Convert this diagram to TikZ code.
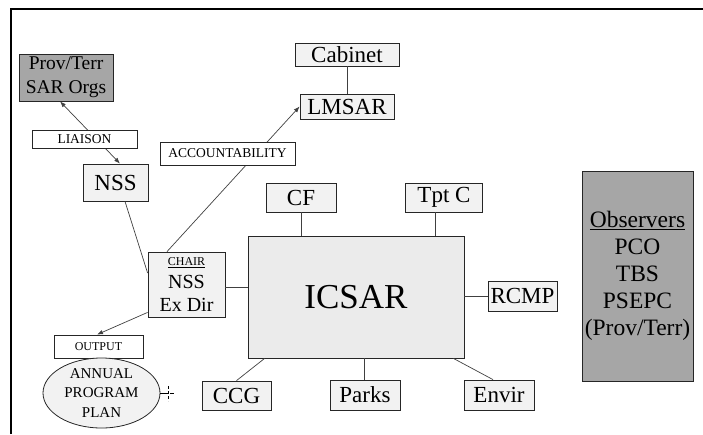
\documentclass[tikz,border=0pt]{standalone}
\usepackage{fontspec}
\setmainfont{Liberation Serif}
\usetikzlibrary{shapes.geometric,arrows.meta}
\definecolor{boxgray}{HTML}{F2F2F2}
\definecolor{bigboxgray}{HTML}{EBEBEB}
\definecolor{darkgray}{HTML}{A6A6A6}
\begin{document}
\begin{tikzpicture}[x=1pt,y=-1pt,
  box/.style={draw=black!85,fill=boxgray,line width=0.8pt,inner sep=0pt,align=center,font=\fontsize{23}{26}\selectfont},
  tag/.style={draw=black!85,fill=white,line width=0.8pt,inner sep=0pt,font=\fontsize{12}{14}\selectfont},
  link/.style={draw=black!75,line width=0.7pt},
  >={Latex[length=6pt,width=4.5pt]}]
\useasboundingbox (0,0) rectangle (703,434);
\draw[line width=2pt] (11,434) -- (11,9) -- (703,9);
\node[box,fill=darkgray,minimum width=94pt,minimum height=47pt,font=\fontsize{19.5}{24}\selectfont] (prov) at (66,77.5) {Prov/Terr\\SAR Orgs};
\node[box,minimum width=65pt,minimum height=37pt] (nss) at (115.5,182.5) {NSS};
\node[box,minimum width=104pt,minimum height=23pt] (cabinet) at (347,54.5) {Cabinet};
\node[box,minimum width=94pt,minimum height=25pt] (lmsar) at (347,106.5) {LMSAR};
\node[box,minimum width=70pt,minimum height=29pt] (cf) at (301,197.5) {CF};
\node[box,minimum width=77pt,minimum height=29pt] (tptc) at (444,197.5) {Tpt C};
\node[box,minimum width=77pt,minimum height=65pt,font=\fontsize{20}{23}\selectfont] (chair) at (186.5,284.5) {{\fontsize{12}{14}\selectfont\underline{CHAIR}}\\NSS\\Ex Dir};
\node[box,fill=bigboxgray,minimum width=216pt,minimum height=122pt,font=\fontsize{35}{40}\selectfont] (icsar) at (356,297) {ICSAR};
\node[box,minimum width=69pt,minimum height=30pt] (rcmp) at (522.5,296) {RCMP};
\node[box,minimum width=69pt,minimum height=29pt] (ccg) at (236.5,395.5) {CCG};
\node[box,minimum width=70pt,minimum height=30pt] (parks) at (365,395) {Parks};
\node[box,minimum width=70pt,minimum height=30pt] (envir) at (499,395) {Envir};
\node[box,fill=darkgray,minimum width=111pt,minimum height=210pt,font=\fontsize{23.5}{27}\selectfont] (observers) at (637.5,276) {\underline{Observers}\\PCO\\TBS\\PSEPC\\(Prov/Terr)};
\node[tag,minimum width=89pt,minimum height=23pt] (output) at (98.5,346.5) {OUTPUT};
\node[box,ellipse,minimum width=117pt,minimum height=70pt,font=\fontsize{15}{19.5}\selectfont] (plan) at (101.5,393) {ANNUAL\\PROGRAM\\PLAN};
\draw[link,<->] ([xshift=-6pt]prov.south) -- ([xshift=4.5pt]nss.north);
\draw[link] ([xshift=9.5pt]nss.south) -- ([yshift=11.5pt]chair.west);
\draw[link,->] ([xshift=-19.5pt]chair.north) -- (lmsar.west);
\draw[link] (cabinet) -- (lmsar);
\draw[link,->] ([yshift=5pt]chair.south west) -- ([xshift=-1.5pt]output.north);
\draw[link] ([yshift=-2.5pt]chair.east) -- ([yshift=-2.5pt]chair.east -| icsar.west);
\draw[link] (cf.south) -- (cf.south |- icsar.north);
\draw[link] ([xshift=-9pt]tptc.south) -- ([xshift=-9pt]tptc.south |- icsar.north);
\draw[link] (rcmp.west) -- (rcmp.west -| icsar.east);
\draw[link] ([xshift=-1pt]parks.north) -- ([xshift=-1pt]parks.north |- icsar.south);
\draw[link] ([xshift=17pt]icsar.south west) -- (ccg.north);
\draw[link] ([xshift=-11pt]icsar.south east) -- ([xshift=-6pt]envir.north);
\node[tag,minimum width=105pt,minimum height=18pt,font=\fontsize{13.5}{15}\selectfont] (liaison) at (84.5,139) {LIAISON};
\node[tag,minimum width=135pt,minimum height=23pt,font=\fontsize{13.5}{15}\selectfont] (accountability) at (227.5,153.5) {ACCOUNTABILITY};
\draw[line width=0.6pt] (plan.east) -- ++(8,0);
\draw[line width=0.6pt,densely dashed] ([xshift=8pt,yshift=7pt]plan.east) -- ++(0,15);
\draw[line width=0.6pt] ([xshift=10pt]plan.east) -- ++(4,0);
\end{tikzpicture}
\end{document}
